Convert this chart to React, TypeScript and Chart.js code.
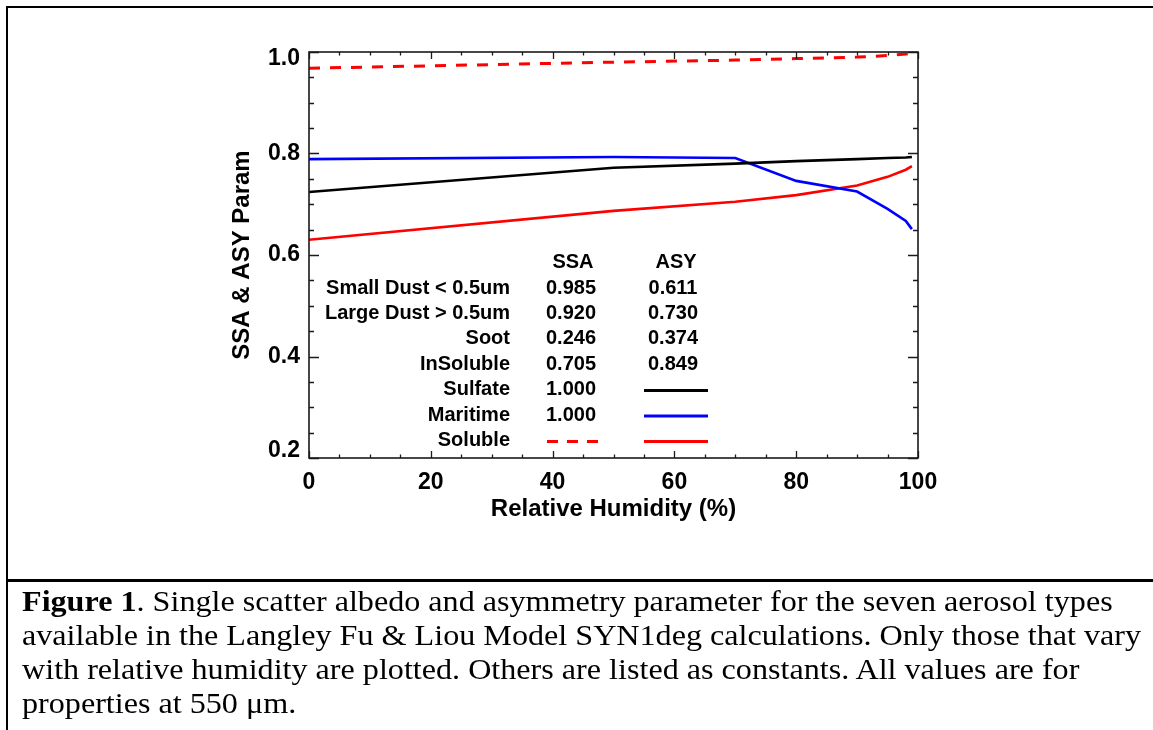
import React, { useEffect, useRef } from "react";
import { Chart, registerables } from "chart.js";

Chart.register(...registerables);

// ---- data ----
const humidity = [0, 50, 70, 80, 90, 95, 98, 99];
const sulfateAsy = [0.724, 0.772, 0.78, 0.785, 0.789, 0.791, 0.792, 0.793];
const maritimeAsy = [0.789, 0.793, 0.791, 0.746, 0.725, 0.691, 0.667, 0.651];
const solubleAsy = [0.63, 0.687, 0.705, 0.718, 0.737, 0.754, 0.768, 0.775];
const solubleSsa = [0.968, 0.98, 0.984, 0.987, 0.99, 0.993, 0.996, 0.998];

const xTickValues = [0, 20, 40, 60, 80, 100];
const yTickValues = [0.2, 0.4, 0.6, 0.8, 1.0];
const xMinorStep = 5;
const yMinorStep = 0.05;

const tableHeaders = ["SSA", "ASY"];
const tableNames = [
  "Small Dust < 0.5um",
  "Large Dust > 0.5um",
  "Soot",
  "InSoluble",
  "Sulfate",
  "Maritime",
  "Soluble",
];
const tableSsa = ["0.985", "0.920", "0.246", "0.705", "1.000", "1.000", ""];
const tableAsy = ["0.611", "0.730", "0.374", "0.849", "", "", ""];
const tableSsaSwatch = ["", "", "", "", "", "", "dashRed"];
const tableAsySwatch = ["", "", "", "", "black", "blue", "red"];

const SANS = '"Liberation Sans", Arial, Helvetica, sans-serif';
const SERIF = '"Liberation Serif", "Times New Roman", serif';

const swatchStyles: Record<string, { color: string; dash: number[] }> = {
  black: { color: "#000000", dash: [] },
  blue: { color: "#0000ff", dash: [] },
  red: { color: "#ff0000", dash: [] },
  dashRed: { color: "#ff0000", dash: [11, 9] },
};

const framePlugin = {
  id: "idlFrame",
  afterDraw(chart: any) {
    const { ctx, chartArea } = chart;
    const xs = chart.scales.x;
    const ys = chart.scales.y;
    const { left, right, top, bottom } = chartArea;
    ctx.save();
    ctx.strokeStyle = "#1a1a1a";
    ctx.lineWidth = 1.6;
    ctx.setLineDash([]);
    ctx.strokeRect(left, top, right - left, bottom - top);

    // ticks
    ctx.lineWidth = 1.3;
    ctx.beginPath();
    const xMin = xs.min, xMax = xs.max;
    for (let v = xMin; v <= xMax + 1e-9; v += xMinorStep) {
      const major = xTickValues.some((t) => Math.abs(t - v) < 1e-6);
      const len = major ? 7 : 3.5;
      const px = Math.round(xs.getPixelForValue(v)) + 0.5;
      ctx.moveTo(px, bottom);
      ctx.lineTo(px, bottom - len);
      ctx.moveTo(px, top);
      ctx.lineTo(px, top + len);
    }
    const yMin = ys.min, yMax = ys.max;
    const n = Math.round((yMax - yMin) / yMinorStep);
    for (let i = 0; i <= n; i++) {
      const v = yMin + i * yMinorStep;
      const major = yTickValues.some((t) => Math.abs(t - v) < 1e-6);
      const len = major ? 10 : 5;
      const py = Math.round(ys.getPixelForValue(v)) + 0.5;
      ctx.moveTo(left, py);
      ctx.lineTo(left + len, py);
      ctx.moveTo(right, py);
      ctx.lineTo(right - len, py);
    }
    ctx.stroke();

    // y tick labels (end labels nudged inward, as in the IDL original)
    ctx.fillStyle = "#000";
    ctx.font = `bold 23px ${SANS}`;
    ctx.textAlign = "right";
    ctx.textBaseline = "middle";
    ys.ticks.forEach((t: any, i: number) => {
      let py = ys.getPixelForValue(t.value);
      if (i === 0) py -= 7;
      if (i === ys.ticks.length - 1) py += 7;
      ctx.fillText(Number(t.value).toFixed(1), left - 9, py);
    });

    // constants table
    const labelRight = 510;
    const ssaCenter = 571;
    const asyCenter = 673;
    const headerY = 262.5;
    const rowY0 = 288;
    const rowStep = 25.4;
    ctx.font = `bold 20px ${SANS}`;
    ctx.textBaseline = "middle";
    ctx.textAlign = "center";
    ctx.fillText(tableHeaders[0], ssaCenter + 2, headerY);
    ctx.fillText(tableHeaders[1], asyCenter + 3, headerY);
    const drawSwatch = (kind: string, cx: number, cy: number, halfW: number) => {
      const st = swatchStyles[kind];
      ctx.save();
      ctx.strokeStyle = st.color;
      ctx.lineWidth = 3;
      ctx.setLineDash(st.dash);
      ctx.beginPath();
      ctx.moveTo(cx - halfW, cy);
      ctx.lineTo(cx + halfW, cy);
      ctx.stroke();
      ctx.restore();
    };
    tableNames.forEach((name, i) => {
      const y = rowY0 + i * rowStep;
      ctx.textAlign = "right";
      ctx.fillText(name, labelRight, y);
      ctx.textAlign = "center";
      if (tableSsa[i]) ctx.fillText(tableSsa[i], ssaCenter, y);
      if (tableAsy[i]) ctx.fillText(tableAsy[i], asyCenter, y);
      if (tableSsaSwatch[i]) drawSwatch(tableSsaSwatch[i], ssaCenter + 2, y + 1, 26);
      if (tableAsySwatch[i]) drawSwatch(tableAsySwatch[i], asyCenter + 3, y + 1, 32);
    });
    ctx.restore();
  },
};

export default function App() {
  const canvasRef = useRef<HTMLCanvasElement | null>(null);

  useEffect(() => {
    if (!canvasRef.current) return;
    const toPts = (ys: number[]) => humidity.map((x, i) => ({ x, y: ys[i] }));
    const chart = new Chart(canvasRef.current, {
      type: "line",
      data: {
        datasets: [
          {
            label: "Soluble SSA",
            data: toPts(solubleSsa),
            borderColor: "#ff0000",
            borderWidth: 3,
            borderDash: [11, 10],
            pointRadius: 0,
            fill: false,
            tension: 0,
          },
          {
            label: "Sulfate ASY",
            data: toPts(sulfateAsy),
            borderColor: "#000000",
            borderWidth: 2.6,
            pointRadius: 0,
            fill: false,
            tension: 0,
          },
          {
            label: "Maritime ASY",
            data: toPts(maritimeAsy),
            borderColor: "#0000ff",
            borderWidth: 2.6,
            pointRadius: 0,
            fill: false,
            tension: 0,
          },
          {
            label: "Soluble ASY",
            data: toPts(solubleAsy),
            borderColor: "#ff0000",
            borderWidth: 2.6,
            pointRadius: 0,
            fill: false,
            tension: 0,
          },
        ],
      },
      options: {
        responsive: false,
        animation: false,
        devicePixelRatio: 1,
        layout: { padding: { left: 220, right: 235, top: 52, bottom: 0 } },
        plugins: { legend: { display: false }, tooltip: { enabled: false } },
        scales: {
          x: {
            type: "linear",
            min: 0,
            max: 100,
            afterBuildTicks: (s: any) => {
              s.ticks = xTickValues.map((v) => ({ value: v }));
            },
            afterFit: (s: any) => {
              s.height = 117;
            },
            grid: { display: false, drawTicks: false },
            border: { display: false },
            ticks: {
              color: "#000",
              padding: 11,
              maxRotation: 0,
              autoSkip: false,
              font: { family: SANS, size: 23, weight: "bold" },
              callback: (v: any) => String(v),
            },
            title: {
              display: true,
              text: "Relative Humidity (%)",
              color: "#000",
              font: { family: SANS, size: 24, weight: "bold" },
              padding: { top: 0, bottom: 51 },
            },
          },
          y: {
            type: "linear",
            min: 0.2,
            max: 1.0,
            afterBuildTicks: (s: any) => {
              s.ticks = yTickValues.map((v) => ({ value: v }));
            },
            afterFit: (s: any) => {
              s.width = 89;
            },
            grid: { display: false, drawTicks: false },
            border: { display: false },
            ticks: {
              display: false,
              font: { family: SANS, size: 23, weight: "bold" },
            },
            title: {
              display: true,
              text: "SSA & ASY Param",
              color: "#000",
              font: { family: SANS, size: 24, weight: "bold" },
              padding: { top: 7.6, bottom: 0 },
            },
          },
        },
      },
      plugins: [framePlugin],
    } as any);
    return () => chart.destroy();
  }, []);

  return (
    <div
      style={{
        position: "absolute",
        left: 0,
        top: 0,
        width: 1153,
        height: 730,
        overflow: "hidden",
        background: "#fff",
      }}
    >
      <canvas
        ref={canvasRef}
        width={1153}
        height={575}
        style={{ position: "absolute", left: 0, top: 0, width: 1153, height: 575 }}
      />
      <div
        style={{
          position: "absolute",
          left: 6,
          top: 6,
          width: 1300,
          height: 900,
          borderLeft: "2.5px solid #000",
          borderTop: "2.5px solid #000",
          boxSizing: "border-box",
          pointerEvents: "none",
        }}
      />
      <div
        style={{
          position: "absolute",
          left: 6,
          top: 579,
          width: 1300,
          height: 3,
          background: "#000",
        }}
      />
      <div
        style={{
          position: "absolute",
          left: 22,
          top: 584,
          fontFamily: SERIF,
          fontSize: 29,
          lineHeight: "34px",
          whiteSpace: "nowrap",
          color: "#000",
          transform: "scaleX(1.108)",
          transformOrigin: "0 0",
        }}
      >
        <b>Figure 1</b>. Single scatter albedo and asymmetry parameter for the seven aerosol types
        <br />
        available in the Langley Fu &amp; Liou Model SYN1deg calculations. Only those that vary
        <br />
        with relative humidity are plotted. Others are listed as constants. All values are for
        <br />
        properties at 550 μm.
      </div>
    </div>
  );
}
